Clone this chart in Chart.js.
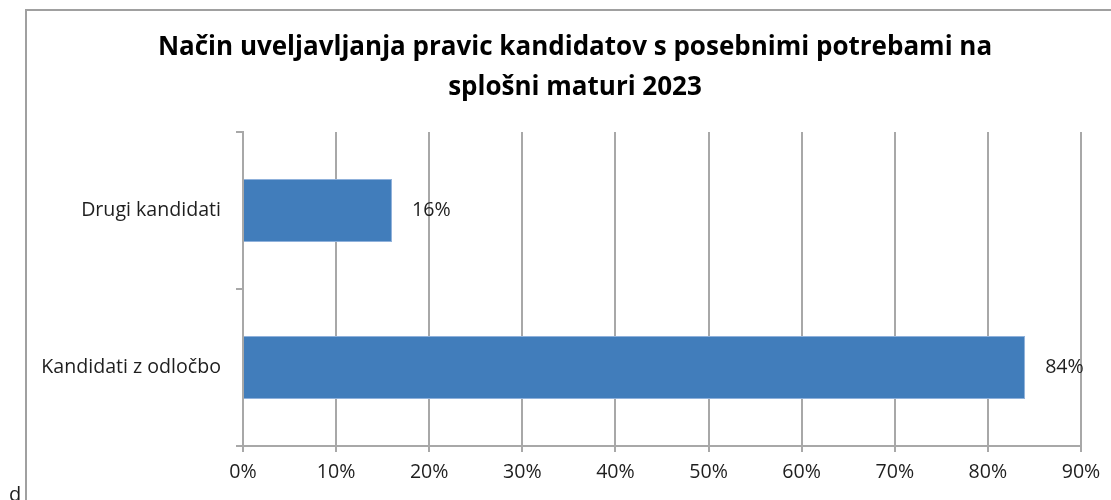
<!DOCTYPE html>
<html>
<head>
<meta charset="utf-8">
<script src="https://cdn.jsdelivr.net/npm/chart.js@4"></script>
<style>
  html, body { margin: 0; padding: 0; background: #fff; }
  #wrap { width: 1111px; height: 500px; }
</style>
</head>
<body>
<div id="wrap"><canvas id="chart" width="1111" height="500"></canvas></div>
<script>
const categories = ['Drugi kandidati', 'Kandidati z odločbo'];
const shares = [16, 84];
const titleLines = ['Način uveljavljanja pravic kandidatov s posebnimi potrebami na', 'splošni maturi 2023'];

const gridGray = '#a8a8a8';
const textColor = '#1e1e1e';
const labelFont = { family: 'Open Sans', size: 19.6 };

// frame, stray corner letter and the two-line heading
const framePlugin = {
  id: 'frame',
  beforeDraw(chart) {
    const ctx = chart.ctx;
    ctx.save();
    ctx.strokeStyle = '#a0a0a0';
    ctx.lineWidth = 2;
    ctx.beginPath();
    ctx.moveTo(26, chart.height);
    ctx.lineTo(26, 10);
    ctx.lineTo(chart.width, 10);
    ctx.stroke();
    ctx.fillStyle = textColor;
    ctx.font = '20px "Open Sans"';
    ctx.textBaseline = 'top';
    ctx.fillText('d', 9, 485);

    ctx.fillStyle = '#000';
    ctx.font = 'bold 26px "Open Sans"';
    ctx.textAlign = 'center';
    ctx.textBaseline = 'middle';
    titleLines.forEach((line, i) => ctx.fillText(line, 575, 48 + i * 40));
    ctx.restore();
  }
};

// value labels right of each bar
const valueLabels = {
  id: 'valueLabels',
  afterDatasetsDraw(chart) {
    const ctx = chart.ctx;
    const meta = chart.getDatasetMeta(0);
    ctx.save();
    ctx.fillStyle = textColor;
    ctx.font = '19.6px "Open Sans"';
    ctx.textAlign = 'left';
    ctx.textBaseline = 'middle';
    meta.data.forEach((bar, i) => {
      ctx.fillText(shares[i] + '%', bar.x + 20, bar.y);
    });
    ctx.restore();
  }
};

new Chart(document.getElementById('chart').getContext('2d'), {
  type: 'bar',
  data: {
    labels: categories,
    datasets: [{
      data: shares,
      backgroundColor: '#417dbb',
      borderColor: '#8fb1db',
      borderWidth: 1,
      barPercentage: 0.4,
      categoryPercentage: 1.0
    }]
  },
  options: {
    indexAxis: 'y',
    responsive: false,
    animation: false,
    layout: {
      padding: { left: 0, right: 30, top: 132, bottom: 0 }
    },
    scales: {
      x: {
        min: 0,
        max: 90,
        ticks: {
          stepSize: 10,
          padding: 9,
          color: textColor,
          font: labelFont,
          callback: v => v + '%'
        },
        grid: {
          color: gridGray,
          lineWidth: 2,
          tickLength: 6
        },
        border: { color: gridGray, width: 2 },
        afterFit: scale => { scale.height = 54; }
      },
      y: {
        grid: {
          offset: true,
          drawOnChartArea: false,
          color: gridGray,
          lineWidth: 2,
          tickLength: 7
        },
        border: { color: gridGray, width: 2 },
        ticks: {
          padding: 15,
          color: textColor,
          font: labelFont
        },
        afterFit: scale => { scale.width = 243; }
      }
    },
    plugins: {
      legend: { display: false },
      tooltip: { enabled: false },
      title: { display: false }
    }
  },
  plugins: [framePlugin, valueLabels]
});
</script>
</body>
</html>
